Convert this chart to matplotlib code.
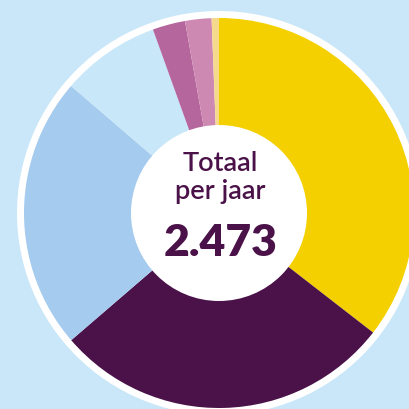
import matplotlib
matplotlib.use("Agg")
import matplotlib.pyplot as plt
from matplotlib.patches import Circle

categories = ["A", "B", "C", "D", "E", "F", "G"]
values = [878, 697, 559, 203, 67, 54, 15]
colors = ["#F5D000", "#4A1248", "#A5CBEE", "#C8E7F8", "#B5669D", "#CE89B3", "#F5DA8E"]
total_label = "2.473"
title_lines = ["Totaal", "per jaar"]

bg = "#C9E7F8"
fig = plt.figure(figsize=(4.1, 4.1), dpi=100)
fig.patch.set_facecolor(bg)
ax = fig.add_axes([0, 0, 1, 1])
ax.set_facecolor(bg)

cx, cy = 219, 196
ax.add_patch(Circle((cx, cy), 202, facecolor="white", edgecolor="none", zorder=0))
ax.pie(values, colors=colors, startangle=90, counterclock=False,
       center=(cx, cy), radius=195, frame=True,
       wedgeprops=dict(linewidth=0, edgecolor="none"))
ax.set_xlim(0, 410)
ax.set_ylim(0, 410)
ax.set_aspect("equal")
ax.axis("off")
ax.add_patch(Circle((cx, cy), 88, facecolor="white", edgecolor="none", zorder=5))

txtc = "#4A1248"
ax.text(cx + 1, 410 - 164, title_lines[0], ha="center", va="center", fontsize=19.5,
        color=txtc, family="Lato", fontweight="semibold", zorder=6)
ax.text(cx + 1, 410 - 192, title_lines[1], ha="center", va="center", fontsize=19.5,
        color=txtc, family="Lato", fontweight="semibold", zorder=6)
ax.text(cx + 2, 410 - 243, total_label, ha="center", va="center", fontsize=32,
        color=txtc, family="Lato", fontweight="heavy", zorder=6)

fig.savefig("out.png", dpi=100, facecolor=bg)
